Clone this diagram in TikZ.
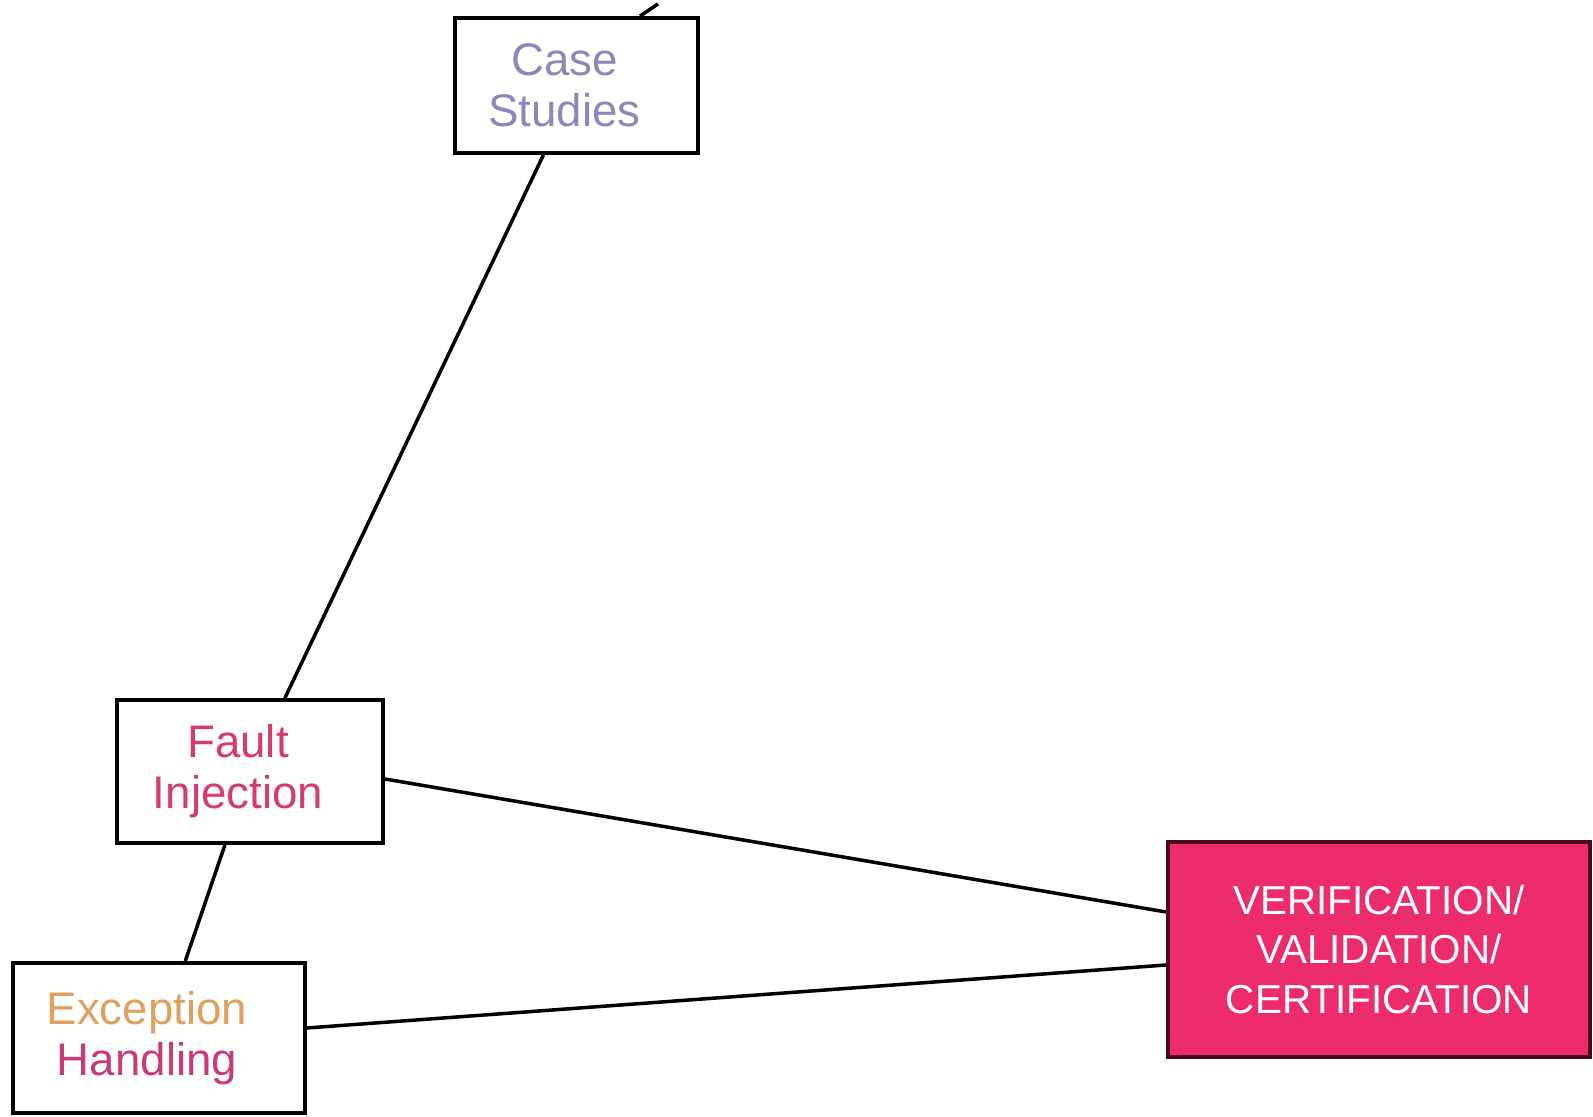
\documentclass[tikz,border=0pt]{standalone}
\usepackage{fontspec}
\setmainfont{Liberation Sans}
\usetikzlibrary{positioning,calc}
\definecolor{lavtext}{RGB}{140,136,188}
\definecolor{pinktext}{RGB}{214,58,114}
\definecolor{orangetext}{RGB}{224,160,96}
\definecolor{magtext}{RGB}{201,58,122}
\definecolor{vvcfill}{RGB}{236,44,108}
\definecolor{vvcborder}{RGB}{74,8,32}
\tikzstyle{topic} = [rectangle, draw=black, line width=1.1pt, fill=white,
align=center, font=\fontsize{13}{14.5}\selectfont]
\tikzstyle{goal} = [rectangle, draw=vvcborder, line width=1.1pt, fill=vvcfill,
align=center, text=white, font=\fontsize{11.5}{14}\selectfont]
\tikzstyle{link} = [line width=1pt, black]
\newcommand{\lpad}{\hspace*{0.24cm}}

\begin{document}
\begin{tikzpicture}
            \useasboundingbox (0,0) rectangle (15.93,11.17);
            \node[topic, minimum width=2.43cm, minimum height=1.35cm,
            text=lavtext] (case) at (5.765,10.315) {Case\lpad\\Studies\lpad};
            \node[topic, minimum width=2.66cm, minimum height=1.43cm,
            text=pinktext] (fault) at (2.50,3.455) {Fault\lpad\\Injection\lpad};
            \node[topic, minimum width=2.92cm, minimum height=1.50cm]
            (exc) at (1.59,0.79) {\textcolor{orangetext}{Exception}\lpad\\
            \textcolor{magtext}{Handling}\lpad};
            \node[goal, minimum width=4.22cm, minimum height=2.15cm]
            (vvc) at (13.79,1.675) {VERIFICATION/\\VALIDATION/\\CERTIFICATION};
            \coordinate (up) at (6.58,11.13);
            \draw[link] (case) -- (fault);
            \draw[link] (fault) -- (exc);
            \draw[link] ([yshift=-0.075cm]fault.east) -- ([yshift=0.375cm]vvc.west);
            \draw[link] ([yshift=0.10cm]exc.east) -- ([yshift=-0.155cm]vvc.west);
            \draw[link] ([xshift=0.635cm]case.north) -- (up);
        \end{tikzpicture}
\end{document}
